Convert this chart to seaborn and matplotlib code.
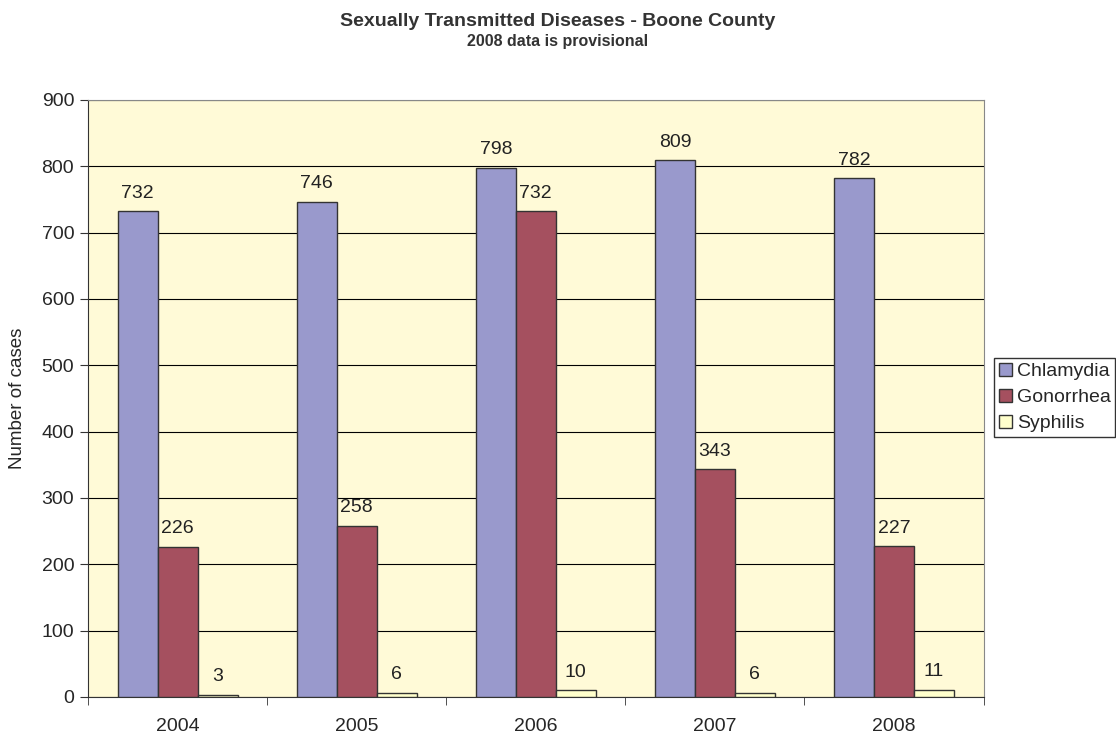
import numpy as np
import pandas as pd
import seaborn as sns
import matplotlib.pyplot as plt

years = ['2004', '2005', '2006', '2007', '2008']
chlamydia = [732, 746, 798, 809, 782]
gonorrhea = [226, 258, 732, 343, 227]
syphilis = [3, 6, 10, 6, 11]
diseases = ['Chlamydia', 'Gonorrhea', 'Syphilis']
colors = ['#9999CC', '#A5505F', '#FFFFCC']

df = pd.DataFrame({
    'year': years * 3,
    'disease': np.repeat(diseases, len(years)),
    'cases': chlamydia + gonorrhea + syphilis,
})

sns.set_style('white')
plt.rcParams['font.family'] = ['Liberation Sans', 'DejaVu Sans']

fig = plt.figure(figsize=(11.16, 7.38), dpi=100)
ax = fig.add_axes([0.0789, 0.0556, 0.8024, 0.8089])
ax.set_facecolor('#FFFAD7')

sns.barplot(data=df, x='year', y='cases', hue='disease', palette=colors,
            saturation=1, width=0.67, edgecolor='#333333', linewidth=1.0,
            ax=ax, zorder=3)

for c in ax.containers:
    ax.bar_label(c, fmt='%d', padding=7, fontsize=14, color='#222222')

ax.set_ylim(0, 900)
ax.set_xlim(-0.5, 4.5)
ax.set_yticks(range(0, 901, 100))
ax.yaxis.grid(True, color='black', linewidth=0.8, zorder=1)
ax.set_axisbelow(True)
ax.tick_params(axis='y', labelsize=14, length=6, direction='out', left=True,
               color='#333333', pad=4)
ax.tick_params(axis='x', labelsize=14, length=0, pad=15)
# boundary ticks between categories
ax.set_xticks(np.arange(-0.5, 5, 1), minor=True)
ax.tick_params(axis='x', which='minor', length=6, bottom=True, color='#333333')
ax.set_xlabel('')
ax.set_ylabel('Number of cases', fontsize=13.5, labelpad=11)

for s in ['left', 'bottom']:
    ax.spines[s].set_color('#333333')
for s in ['top', 'right']:
    ax.spines[s].set_color('#888888')

ax.legend(loc='center left', bbox_to_anchor=(1.012, 0.502), frameon=True,
          fancybox=False, edgecolor='black', fontsize=14, handlelength=0.65,
          handleheight=0.65, handletextpad=0.25, borderpad=0.25,
          labelspacing=0.45, borderaxespad=0.0)

fig.text(0.5, 0.965, 'Sexually Transmitted Diseases - Boone County',
         ha='center', fontsize=14, fontweight='bold', color='#333333')
fig.text(0.5, 0.937, '2008 data is provisional', ha='center', fontsize=11.5,
         fontweight='bold', color='#333333')

fig.savefig('out.png', dpi=100)
